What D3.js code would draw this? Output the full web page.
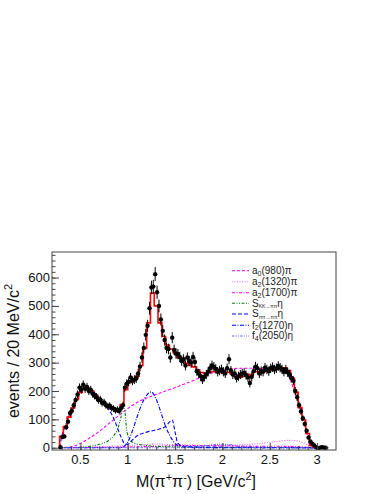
<!DOCTYPE html>
<html lang="en">
<head>
<meta charset="UTF-8">
<title>M(pi+pi-) fit</title>
<script src="https://cdn.jsdelivr.net/npm/d3@7"></script>
<style>
  body { margin: 0; background: #fff; }
  svg { display: block; font-family: "Liberation Sans", Arial, sans-serif; }
</style>
</head>
<body>
<svg id="chart" width="382" height="494"></svg>
<script>
// data histogram: 20 MeV bins starting at 0.28 GeV
const binStart = 0.28
const binWidth = 0.02
const counts = [
  2, 38, 40, 72, 92, 122, 130, 150, 168, 188,
  212, 205, 222, 208, 214, 200, 204, 190, 184, 178,
  168, 170, 158, 160, 150, 146, 148, 140, 138, 132,
  134, 130, 140, 150, 212, 226, 232, 248, 236, 240,
  244, 262, 286, 318, 352, 398, 430, 492, 565, 568,
  612, 548, 500, 452, 412, 380, 352, 348, 318, 388,
  345, 332, 330, 320, 306, 312, 290, 318, 306, 300,
  320, 302, 270, 262, 252, 240, 250, 258, 268, 280,
  290, 285, 278, 268, 272, 276, 268, 262, 280, 312,
  272, 258, 262, 246, 252, 258, 262, 264, 256, 248,
  228, 250, 270, 286, 280, 262, 270, 268, 282, 276,
  270, 280, 284, 276, 280, 288, 282, 276, 268, 276,
  266, 258, 246, 236, 200, 178, 150, 128, 104, 84,
  60, 36, 22, 14, 8, 2, -4, 0, 2, 1, 0
]

// total fit, 40 MeV steps starting at 0.28 GeV
const fitStart = 0.28
const fitWidth = 0.04
const fitValues = [
  40, 75, 108, 140, 170, 195, 210, 210, 200, 186,
  172, 160, 150, 142, 136, 134, 152, 205, 230, 238,
  252, 290, 350, 440, 545, 500, 440, 392, 362, 348,
  335, 318, 305, 298, 290, 285, 275, 265, 262, 266,
  268, 268, 265, 264, 266, 262, 252, 248, 252, 252,
  258, 268, 268, 268, 270, 272, 275, 278, 280, 282,
  272, 245, 195, 142, 98, 50, 8, 2, 0, 0
]

// fit components
const a0Mass = [0.28, 0.40, 0.50, 0.60, 0.70, 0.80, 0.90, 1.00, 1.10, 1.20, 1.30, 1.40, 1.50, 1.60, 1.70, 1.80, 1.90, 2.00, 2.10, 2.20, 2.30, 2.40, 2.50, 2.60, 2.65, 2.70, 2.75, 2.80, 2.85, 2.90, 2.93, 2.96, 3.10]
const a0Val  = [0, 3, 15, 35, 58, 85, 112, 138, 160, 175, 188, 200, 212, 225, 238, 252, 264, 273, 278, 280, 280, 279, 278, 275, 268, 250, 210, 160, 105, 40, 5, 0, 0]

const a2aMass = [0.28, 0.50, 0.70, 0.90, 1.00, 1.10, 1.20, 1.30, 1.40, 1.50, 1.60, 1.70, 1.80, 1.90, 2.00, 2.10, 2.20, 2.30, 2.40, 2.50, 2.60, 2.70, 2.80, 2.85, 2.90, 2.95, 3.10]
const a2aVal  = [0, 1, 3, 6, 8, 10, 12, 13, 12, 11, 10, 9, 8, 8, 8, 9, 10, 12, 15, 19, 23, 26, 24, 18, 8, 0, 0]

const a2bMass = [0.28, 0.60, 0.90, 1.20, 1.40, 1.60, 1.80, 2.00, 2.20, 2.40, 2.60, 2.80, 2.95, 3.10]
const a2bVal  = [0, 1, 2, 4, 6, 8, 8, 7, 6, 5, 5, 4, 0, 0]

const skkMass = [0.28, 0.50, 0.60, 0.70, 0.80, 0.85, 0.90, 0.93, 0.95, 0.97, 0.99, 1.02, 1.06, 1.10, 1.20, 1.30, 1.50, 1.80, 2.20, 3.10]
const skkVal  = [0, 2, 5, 12, 26, 42, 72, 110, 145, 128, 60, 28, 18, 13, 8, 5, 3, 1, 0, 0]

const spiMass = [0.28, 0.30, 0.35, 0.40, 0.45, 0.50, 0.55, 0.60, 0.65, 0.70, 0.75, 0.80, 0.85, 0.88, 0.92, 0.96, 1.00, 1.05, 1.10, 1.20, 1.30, 1.40, 1.44, 1.47, 1.50, 1.53, 1.58, 1.70, 2.00, 2.50, 3.10]
const spiVal  = [0, 35, 85, 130, 170, 198, 210, 208, 195, 180, 160, 135, 105, 80, 45, 18, 12, 28, 42, 55, 63, 75, 90, 98, 55, 15, 6, 3, 2, 1, 0]

const f2Mass = [0.28, 0.90, 0.95, 1.00, 1.05, 1.10, 1.15, 1.20, 1.25, 1.28, 1.32, 1.36, 1.40, 1.45, 1.50, 1.55, 1.60, 1.80, 3.10]
const f2Val  = [0, 0, 3, 20, 60, 110, 155, 185, 197, 185, 155, 115, 75, 40, 15, 5, 2, 0, 0]

const f4Mass = [0.28, 1.50, 1.70, 1.85, 1.95, 2.05, 2.15, 2.30, 2.50, 3.10]
const f4Val  = [0, 0, 2, 8, 12, 12, 6, 2, 0, 0]

const legendLabels = [
  ["a", "0", "(980)π"],
  ["a", "2", "(1320)π"],
  ["a", "2", "(1700)π"],
  ["S", "KK→ππ", "η"],
  ["S", "ππ→ππ", "η"],
  ["f", "2", "(1270)η"],
  ["f", "4", "(2050)η"]
]

const xTicks = [0.5, 1, 1.5, 2, 2.5, 3]
const yTicks = [0, 100, 200, 300, 400, 500, 600]

const components = [
  { x: a0Mass,  y: a0Val,  color: "#ff00ff", dash: "3,2",              w: 1.1 },
  { x: a2aMass, y: a2aVal, color: "#ff66ff", dash: "1,1.5",            w: 1.1 },
  { x: a2bMass, y: a2bVal, color: "#ff00ff", dash: "3,1.5,1,1.5",      w: 1.1 },
  { x: skkMass, y: skkVal, color: "#008000", dash: "3,1.5,1,1.5,1,1.5", w: 1.1 },
  { x: spiMass, y: spiVal, color: "#0000ff", dash: "4,2",              w: 1.1 },
  { x: f2Mass,  y: f2Val,  color: "#0000ff", dash: "4,1.5,1,1.5",      w: 1.1 },
  { x: f4Mass,  y: f4Val,  color: "#6666ff", dash: "2.5,1.2,1,1.2,1,1.2", w: 1.1 }
]

const svg = d3.select("#chart")

let fLeft = 52, fRight = 336, fTop = 252, fBottom = 450

let x = d3.scaleLinear().domain([0.2, 3.2]).range([fLeft, fRight])
let y = d3.scaleLinear().domain([-8, 690]).range([fBottom, fTop])

svg.append("defs").append("clipPath").attr("id", "frame")
    .append("rect")
    .attr("x", fLeft).attr("y", fTop)
    .attr("width", fRight - fLeft).attr("height", fBottom - fTop)

let plot = svg.append("g").attr("clip-path", "url(#frame)")

// components
let line = d3.line().curve(d3.curveMonotoneX)
components.forEach(c => {
    plot.append("path")
        .attr("d", line(c.x.map((m, i) => [x(m), y(c.y[i])])))
        .attr("fill", "none")
        .attr("stroke", c.color)
        .attr("stroke-width", c.w)
        .attr("stroke-dasharray", c.dash)
})

// total fit as histogram steps
let fitPts = [[x(fitStart), y(0)]]
fitValues.forEach((v, i) => {
    fitPts.push([x(fitStart + i * fitWidth), y(v)])
})
fitPts.push([x(fitStart + fitValues.length * fitWidth), y(0)])
fitPts.push([x(3.12), y(0)])
plot.append("path")
    .attr("d", d3.line().curve(d3.curveStepAfter)(fitPts))
    .attr("fill", "none")
    .attr("stroke", "#ff0000")
    .attr("stroke-width", 1.6)

// data points with error bars
let points = counts.map((c, i) => ({ m: binStart + (i + 0.5) * binWidth, n: c }))
let pg = plot.append("g")
pg.selectAll("line.err")
    .data(points)
    .join("line")
    .attr("x1", d => x(d.m)).attr("x2", d => x(d.m))
    .attr("y1", d => y(d.n - Math.sqrt(Math.abs(d.n) + 4)))
    .attr("y2", d => y(d.n + Math.sqrt(Math.abs(d.n) + 4)))
    .attr("stroke", "#000")
    .attr("stroke-width", 1)
pg.selectAll("circle")
    .data(points)
    .join("circle")
    .attr("cx", d => x(d.m))
    .attr("cy", d => y(d.n))
    .attr("r", 2.2)
    .attr("fill", "#000")

// frame
svg.append("rect")
    .attr("x", fLeft).attr("y", fTop)
    .attr("width", fRight - fLeft).attr("height", fBottom - fTop)
    .attr("fill", "none")
    .attr("stroke", "#444")
    .attr("stroke-width", 1)

// axes with ROOT-style inner ticks
let xAxis = d3.axisTop(x).tickValues(d3.range(0.3, 3.15, 0.1)).tickSize(3.5).tickFormat("")
svg.append("g").attr("transform", `translate(0,${fBottom})`).call(xAxis)
let xMajor = d3.axisTop(x).tickValues(xTicks).tickSize(7).tickFormat("")
svg.append("g").attr("transform", `translate(0,${fBottom})`).call(xMajor)

let yAxis = d3.axisRight(y).tickValues(d3.range(0, 681, 20)).tickSize(3.5).tickFormat("")
svg.append("g").attr("transform", `translate(${fLeft},0)`).call(yAxis)
let yMajor = d3.axisRight(y).tickValues(yTicks).tickSize(7).tickFormat("")
svg.append("g").attr("transform", `translate(${fLeft},0)`).call(yMajor)

svg.selectAll(".domain").remove()
svg.selectAll(".tick line").attr("stroke", "#444")

// tick labels
svg.selectAll("text.xl")
    .data(xTicks)
    .join("text")
    .attr("class", "xl")
    .attr("x", d => x(d))
    .attr("y", 464)
    .attr("text-anchor", "middle")
    .attr("font-size", 13)
    .attr("fill", "#111")
    .text(d => d)

svg.selectAll("text.yl")
    .data(yTicks)
    .join("text")
    .attr("class", "yl")
    .attr("x", 50)
    .attr("y", d => y(d) + 4.6)
    .attr("text-anchor", "end")
    .attr("font-size", 13)
    .attr("fill", "#111")
    .text(d => d)

// axis titles
let xt = svg.append("text")
    .attr("x", (fLeft + fRight) / 2 + 2)
    .attr("y", 487)
    .attr("text-anchor", "middle")
    .attr("font-size", 16)
    .attr("fill", "#111")
xt.append("tspan").text("M(π")
xt.append("tspan").attr("font-size", 11).attr("dy", -6).text("+")
xt.append("tspan").attr("dy", 6).text("π")
xt.append("tspan").attr("font-size", 11).attr("dy", -6).text("-")
xt.append("tspan").attr("dy", 6).text(") [GeV/c")
xt.append("tspan").attr("font-size", 11).attr("dy", -7).text("2")
xt.append("tspan").attr("dy", 7).text("]")

let yt = svg.append("text")
    .attr("transform", `translate(18.5,${(fTop + fBottom) / 2}) rotate(-90)`)
    .attr("text-anchor", "middle")
    .attr("font-size", 16)
    .attr("fill", "#111")
yt.append("tspan").text("events / 20 MeV/c")
yt.append("tspan").attr("font-size", 11).attr("dy", -7).text("2")

// legend
let legY = [270.7, 281.7, 292.7, 303.3, 314, 325.3, 336]
let leg = svg.append("g")
components.forEach((c, i) => {
    leg.append("line")
        .attr("x1", 232).attr("x2", 249)
        .attr("y1", legY[i]).attr("y2", legY[i])
        .attr("stroke", c.color)
        .attr("stroke-width", 1.1)
        .attr("stroke-dasharray", c.dash)
    let t = leg.append("text")
        .attr("x", 252)
        .attr("y", legY[i] + 3.4)
        .attr("font-size", 10)
        .attr("fill", "#222")
    let lab = legendLabels[i]
    let sub = lab[1].length > 1 ? 5 : 7
    t.append("tspan").text(lab[0])
    t.append("tspan").attr("font-size", sub).attr("dy", 1.6).text(lab[1])
    t.append("tspan").attr("dy", -1.6).text(lab[2])
})
</script>
</body>
</html>
